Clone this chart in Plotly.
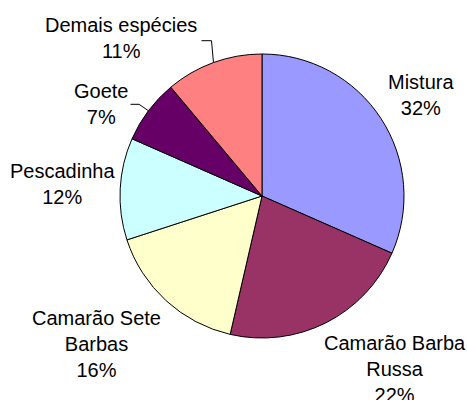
import math
import plotly.graph_objects as go

categories = ["Mistura", "Camarão Barba<br>Russa", "Camarão Sete<br>Barbas", "Pescadinha", "Goete", "Demais espécies"]
values = [31.6, 22.0, 16.4, 11.6, 7.3, 11.1]
colors = ["#9999FF", "#993366", "#FFFFCC", "#CCFFFF", "#660066", "#FF8080"]

W, H = 467, 400
CX, CY, R = 262, 196, 142

fig = go.Figure(go.Pie(
    labels=categories, values=values, sort=False, direction="clockwise", rotation=0,
    marker=dict(colors=colors, line=dict(color="black", width=1)),
    textinfo="none", hoverinfo="label+percent", showlegend=False,
    domain=dict(x=[(CX - R) / W, (CX + R) / W], y=[1 - (CY + R) / H, 1 - (CY - R) / H]),
))

# label block centres (pixels)
label_pos = [(421, 95), (395, 369), (96, 343.5), (62, 184), (101, 103.5), (121, 38.5)]
total = sum(values)
annotations = []
for cat, v, (px, py) in zip(categories, values, label_pos):
    pct = round(100 * v / total)
    annotations.append(dict(
        x=px / W, y=1 - py / H, xref="paper", yref="paper", showarrow=False,
        text=f"{cat}<br>{pct}%", xanchor="center", yanchor="middle", align="center",
        font=dict(family="Arial, Liberation Sans, sans-serif", size=20, color="black"),
    ))

# leader lines for small slices (Goete and Demais espécies)
shapes = []
cum = 0
mids = []
for v in values:
    mids.append((cum + v / 2) / total * 360)
    cum += v
for idx, (elbow, end) in {5: ((211.5, 40.7), (201.5, 40.7)), 4: ((139, 104.3), (130.5, 104.3))}.items():
    a = math.radians(mids[idx])
    ex, ey = CX + R * math.sin(a), CY - R * math.cos(a)
    path = f"M {ex/W} {1-ey/H} L {elbow[0]/W} {1-elbow[1]/H} L {end[0]/W} {1-end[1]/H}"
    shapes.append(dict(type="path", xref="paper", yref="paper", path=path,
                       line=dict(color="black", width=1)))

fig.update_layout(
    width=W, height=H, margin=dict(l=0, r=0, t=0, b=0),
    paper_bgcolor="white", plot_bgcolor="white",
    annotations=annotations, shapes=shapes,
)
fig.write_html("out.html")
